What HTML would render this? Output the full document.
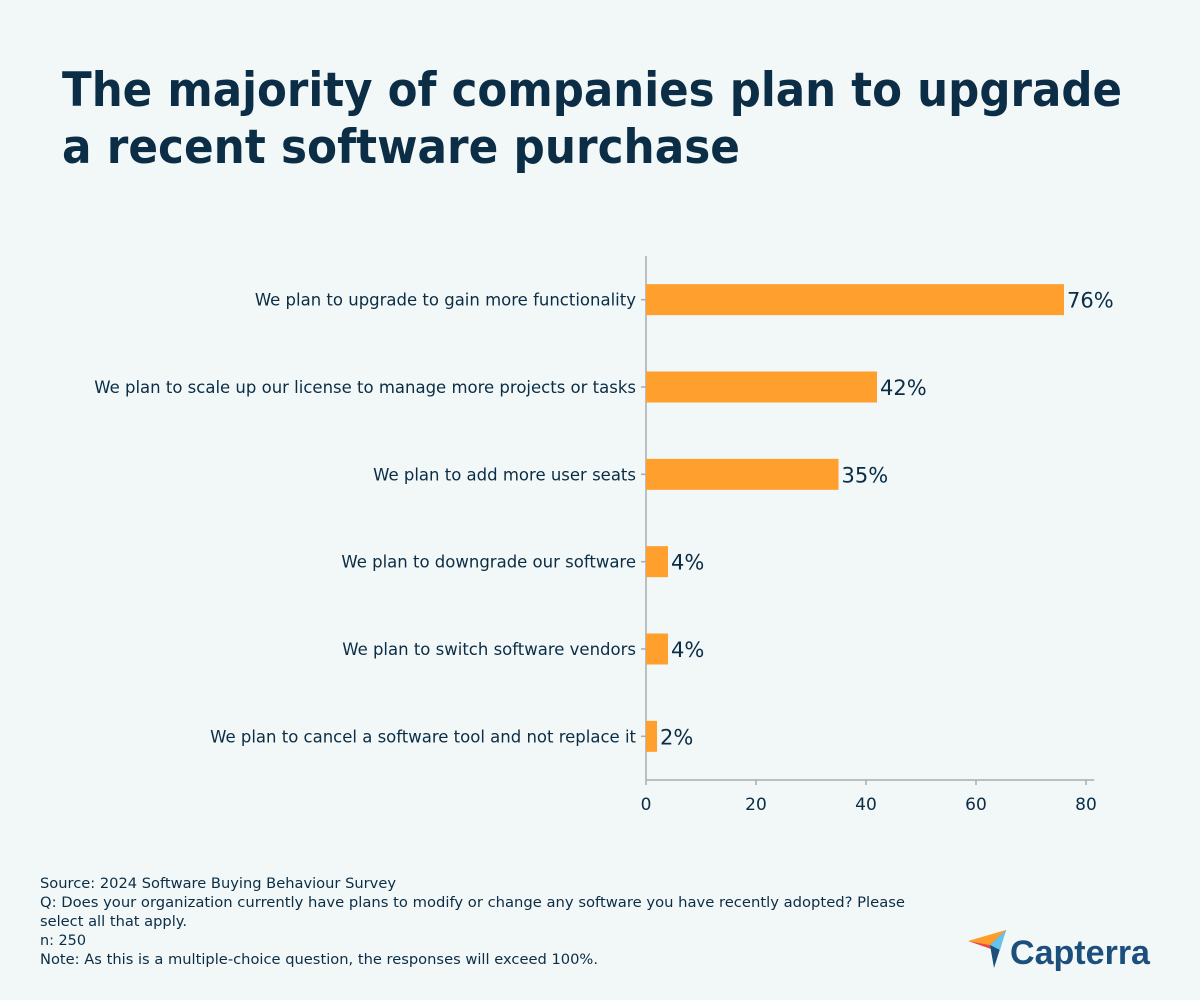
<!DOCTYPE html>
<html><head><meta charset="utf-8"><style>
body{margin:0;background:#f2f7f8;}
svg{display:block;font-family:"DejaVu Sans","Liberation Sans",sans-serif;}
</style></head><body>
<svg id="chart" width="1200" height="1000" viewBox="0 0 1200 1000" xmlns="http://www.w3.org/2000/svg">
<rect width="1200" height="1000" fill="#f2f7f8"/>
<g fill="#0b2d45" font-weight="bold" font-size="47">
<text x="62" y="106" textLength="1060" lengthAdjust="spacingAndGlyphs">The majority of companies plan to upgrade</text>
<text x="62" y="163" textLength="678" lengthAdjust="spacingAndGlyphs">a recent software purchase</text>
</g>
<g id="plot"></g>
<g fill="#0b2d45" font-size="14.5" font-family="DejaVu Sans, sans-serif">
<text x="40" y="888" textLength="356" lengthAdjust="spacingAndGlyphs">Source: 2024 Software Buying Behaviour Survey</text>
<text x="40" y="907" textLength="865" lengthAdjust="spacingAndGlyphs">Q: Does your organization currently have plans to modify or change any software you have recently adopted? Please</text>
<text x="40" y="926" textLength="147" lengthAdjust="spacingAndGlyphs">select all that apply.</text>
<text x="40" y="945" textLength="46" lengthAdjust="spacingAndGlyphs">n: 250</text>
<text x="40" y="964" textLength="558" lengthAdjust="spacingAndGlyphs">Note: As this is a multiple-choice question, the responses will exceed 100%.</text>
</g>
<g>
<polygon points="968,941 1006,930 990,945" fill="#ff9d28"/>
<polygon points="968,941 990,945 994,950" fill="#e8483f"/>
<polygon points="990,945 1006,930 994,968" fill="#1e4e7a"/>
<polygon points="1006,930 990,945 1000,950" fill="#68c3ec"/>
<text x="1010" y="964" font-size="34" font-weight="bold" fill="#1d4f7c" font-family="Liberation Sans, sans-serif" textLength="140" lengthAdjust="spacingAndGlyphs">Capterra</text>
</g>
</svg>
<script>
const categories=["We plan to upgrade to gain more functionality","We plan to scale up our license to manage more projects or tasks","We plan to add more user seats","We plan to downgrade our software","We plan to switch software vendors","We plan to cancel a software tool and not replace it"];
const values=[76,42,35,4,4,2];
const tickValues=[0,20,40,60,80];
const NS="http://www.w3.org/2000/svg";
const plotG=document.getElementById('plot');
const x0=646,pxPer=5.5,plotTop=256,plotBottom=780,band=(plotBottom-plotTop)/categories.length,barH=31;
const xs=v=>x0+v*pxPer;
const ys=i=>plotTop+band*(i+0.5);
function mk(t,a){const e=document.createElementNS(NS,t);for(const k in a)e.setAttribute(k,a[k]);plotG.appendChild(e);return e;}
let yAxis=mk('line',{x1:x0,x2:x0,y1:plotTop,y2:plotBottom,stroke:'#a8adb0','stroke-width':1.5});


let xAxis=mk('line',{x1:x0,x2:xs(81.5),y1:plotBottom,y2:plotBottom,stroke:'#a8adb0','stroke-width':1.5});


tickValues.forEach(v=>{
 let t=mk('line',{x1:xs(v),x2:xs(v),y1:plotBottom,y2:plotBottom+5,stroke:'#a8adb0','stroke-width':1.5});
 
 
 let l=mk('text',{x:xs(v),y:plotBottom+30,'text-anchor':'middle','font-size':17,fill:'#0b2d45'});
 
 
 l.textContent=v;
});
categories.forEach((c,i)=>{
 const y=ys(i);
 let t=mk('line',{x1:x0-5,x2:x0,y1:y,y2:y,stroke:'#a8adb0','stroke-width':1.5});
 
 
 let l=mk('text',{x:636,y:y+6,'text-anchor':'end','font-size':16.5,fill:'#0b2d45'});
 
 
 l.textContent=c;
 let b=mk('rect',{x:x0,y:y-barH/2,width:xs(values[i])-x0,height:barH,fill:'#ff9f2d'});
 
 
 let v=mk('text',{x:xs(values[i])+3,y:y+8,'font-size':21,fill:'#0b2d45'});
 
 
 v.textContent=values[i]+'%';
});
</script>
</body></html>
